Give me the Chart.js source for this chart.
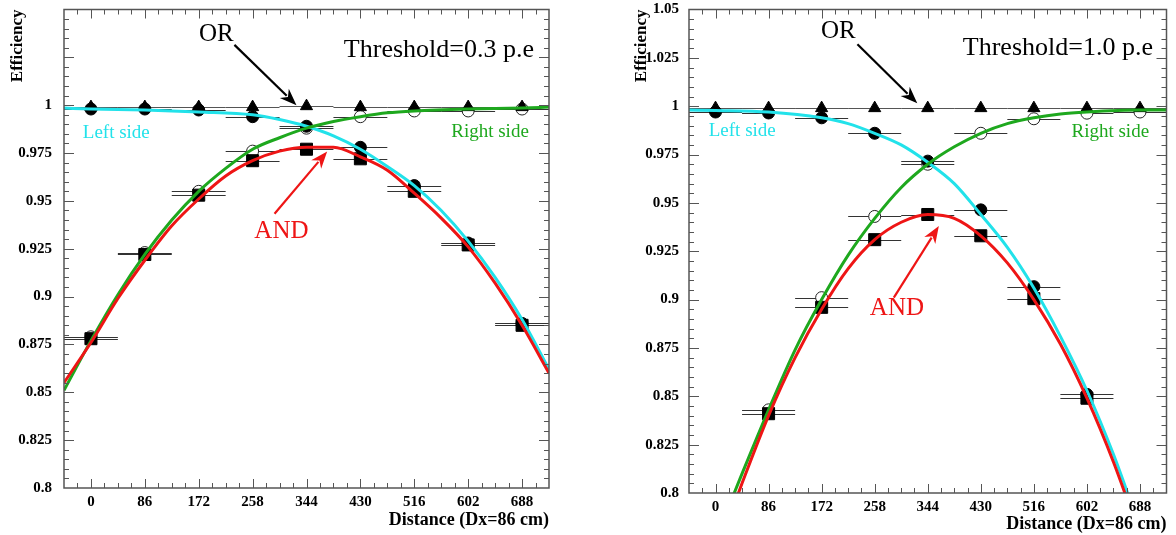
<!DOCTYPE html>
<html lang="en">
<head>
<meta charset="UTF-8">
<title>Efficiency vs distance</title>
<script src="https://cdn.jsdelivr.net/npm/chart.js"></script>
<style>
  body { margin: 0; background: #fff; }
  .panel { position: absolute; top: 0; width: 588px; height: 535px; }
  #p1 { left: 0; }
  #p2 { left: 588px; }
</style>
</head>
<body>
<div class="panel" id="p1"><canvas id="c1"></canvas></div>
<div class="panel" id="p2"><canvas id="c2"></canvas></div>
<script>
// x positions of the measurements and axis labels
const distances = [0, 86, 172, 258, 344, 430, 516, 602, 688];
const yTicks = [0.8, 0.825, 0.85, 0.875, 0.9, 0.925, 0.95, 0.975, 1.0, 1.025, 1.05];

// Threshold = 0.3 p.e
const orLo = [0.999, 0.999, 0.999, 0.999, 0.9995, 0.999, 0.999, 0.999, 0.999];
const leftLo = [0.998, 0.998, 0.9975, 0.994, 0.989, 0.978, 0.958, 0.928, 0.886];
const rightLo = [0.879, 0.923, 0.955, 0.976, 0.988, 0.994, 0.997, 0.997, 0.998];
const andLo = [0.878, 0.922, 0.953, 0.971, 0.977, 0.972, 0.955, 0.927, 0.885];

const cyanLoX = [-43, 0, 86, 172, 258, 301, 344, 387, 430, 473, 516, 559, 602, 645, 688, 731];
const cyanLoY = [0.9985, 0.998, 0.9975, 0.9965, 0.995, 0.9925, 0.989, 0.984, 0.977, 0.968, 0.958, 0.945, 0.929, 0.910, 0.888, 0.862];
const greenLoX = [-43, 0, 43, 86, 129, 172, 215, 258, 301, 344, 387, 430, 473, 516, 602, 688, 731];
const greenLoY = [0.851, 0.877, 0.901, 0.922, 0.940, 0.955, 0.967, 0.977, 0.983, 0.988, 0.9915, 0.994, 0.996, 0.997, 0.998, 0.9985, 0.999];
const redLoX = [-43, 0, 43, 86, 129, 172, 215, 258, 301, 344, 387, 430, 473, 516, 559, 602, 645, 688, 731];
const redLoY = [0.855, 0.876, 0.899, 0.919, 0.937, 0.951, 0.963, 0.971, 0.976, 0.978, 0.978, 0.973, 0.966, 0.954, 0.941, 0.926, 0.907, 0.885, 0.860];

// Threshold = 1.0 p.e
const orHi = [0.999, 0.999, 0.999, 0.999, 0.999, 0.999, 0.999, 0.999, 0.999];
const leftHi = [0.997, 0.9965, 0.994, 0.986, 0.9716, 0.9464, 0.9067, 0.851, null];
const rightHi = [null, 0.843, 0.901, 0.943, 0.970, 0.986, 0.9935, 0.9964, 0.997];
const andHi = [null, 0.841, 0.896, 0.931, 0.944, 0.933, 0.9005, 0.849, null];

const cyanHiX = [-43, 0, 86, 172, 215, 258, 301, 344, 387, 430, 473, 516, 559, 602, 645, 688];
const cyanHiY = [0.998, 0.9978, 0.997, 0.994, 0.991, 0.986, 0.980, 0.971, 0.960, 0.944, 0.927, 0.906, 0.881, 0.853, 0.820, 0.782];
const greenHiX = [0, 43, 86, 129, 172, 215, 258, 301, 344, 387, 430, 473, 516, 559, 602, 688, 731];
const greenHiY = [0.776, 0.810, 0.843, 0.874, 0.900, 0.923, 0.942, 0.958, 0.970, 0.979, 0.986, 0.991, 0.994, 0.996, 0.997, 0.998, 0.998];
const redHiX = [0, 43, 86, 129, 172, 215, 258, 301, 344, 387, 430, 473, 516, 559, 602, 645, 688];
const redHiY = [0.768, 0.805, 0.840, 0.870, 0.895, 0.916, 0.931, 0.940, 0.944, 0.942, 0.933, 0.919, 0.900, 0.877, 0.849, 0.816, 0.778];

const CYAN = '#22e2ea';
const GREEN = '#1ea81e';
const RED = '#ee1515';
const SERIF = "'Liberation Serif', 'DejaVu Serif', serif";

function pts(vals) {
    return distances.map((d, i) => ({ x: d, y: vals[i] })).filter(p => p.y != null);
}
function curve(xs, ys) {
    return xs.map((x, i) => ({ x: x, y: ys[i] }));
}

// frame, inward ticks (ROOT style), error bars and the text/arrow notes
const rootPlugin = {
    id: 'rootStyle',
    beforeDatasetsDraw(chart) {
        const { ctx, chartArea: a, scales: { x, y } } = chart;
        ctx.save();
        ctx.beginPath();
        ctx.rect(a.left, a.top, a.right - a.left, a.bottom - a.top);
        ctx.clip();
        ctx.lineWidth = 1;
        chart.data.datasets.forEach(ds => {
            if (!ds.xErr) return;
            ctx.strokeStyle = ds.errColor || '#333';
            ds.data.forEach(p => {
                const py = Math.round(y.getPixelForValue(p.y)) + 0.5;
                ctx.beginPath();
                ctx.moveTo(x.getPixelForValue(p.x - ds.xErr), py);
                ctx.lineTo(x.getPixelForValue(p.x + ds.xErr), py);
                ctx.stroke();
            });
        });
        ctx.restore();
    },
    afterDraw(chart) {
        const { ctx, chartArea: a, scales: { x, y } } = chart;
        ctx.save();
        ctx.strokeStyle = '#555';
        ctx.lineWidth = 1.5;
        ctx.strokeRect(a.left, a.top, a.right - a.left, a.bottom - a.top);
        ctx.lineWidth = 1;
        ctx.beginPath();
        for (let k = -1; k <= 33; k++) {
            const v = k * 21.5;
            if (v < x.min || v > x.max) continue;
            const px = Math.round(x.getPixelForValue(v)) + 0.5;
            const len = k % 4 === 0 ? 9 : 5;
            ctx.moveTo(px, a.bottom); ctx.lineTo(px, a.bottom - len);
            ctx.moveTo(px, a.top); ctx.lineTo(px, a.top + len);
        }
        for (let k = 1; k < 50; k++) {
            const py = Math.round(y.getPixelForValue(0.8 + k * 0.005)) + 0.5;
            const len = k % 5 === 0 ? 10 : 5;
            ctx.moveTo(a.left, py); ctx.lineTo(a.left + len, py);
            ctx.moveTo(a.right, py); ctx.lineTo(a.right - len, py);
        }
        ctx.stroke();

        const notes = chart.options.plugins.notes;
        notes.arrows.forEach(n => {
            const x1 = x.getPixelForValue(n.x1), y1 = y.getPixelForValue(n.y1);
            const x2 = x.getPixelForValue(n.x2), y2 = y.getPixelForValue(n.y2);
            const ang = Math.atan2(y2 - y1, x2 - x1);
            const hl = 17, hw = 6.5;
            ctx.strokeStyle = n.color;
            ctx.fillStyle = n.color;
            ctx.lineWidth = 2.2;
            ctx.beginPath();
            ctx.moveTo(x1, y1);
            ctx.lineTo(x2 - Math.cos(ang) * hl * 0.8, y2 - Math.sin(ang) * hl * 0.8);
            ctx.stroke();
            ctx.beginPath();
            ctx.moveTo(x2, y2);
            ctx.lineTo(x2 - Math.cos(ang) * hl + Math.sin(ang) * hw, y2 - Math.sin(ang) * hl - Math.cos(ang) * hw);
            ctx.lineTo(x2 - Math.cos(ang) * hl * 0.7, y2 - Math.sin(ang) * hl * 0.7);
            ctx.lineTo(x2 - Math.cos(ang) * hl - Math.sin(ang) * hw, y2 - Math.sin(ang) * hl + Math.cos(ang) * hw);
            ctx.closePath();
            ctx.fill();
        });
        notes.texts.forEach(t => {
            ctx.font = t.size + 'px ' + SERIF;
            ctx.fillStyle = t.color;
            ctx.textAlign = t.align;
            ctx.textBaseline = 'middle';
            ctx.fillText(t.text, x.getPixelForValue(t.x), y.getPixelForValue(t.y));
        });
        ctx.restore();
    }
};

function makeChart(id, d, cfg) {
    const tickFont = { family: SERIF, size: 15, weight: 'bold' };
    return new Chart(document.getElementById(id), {
        type: 'scatter',
        data: {
            datasets: [
                { data: curve(d.redX, d.redY), showLine: true, borderColor: RED, borderWidth: 3, pointRadius: 0, cubicInterpolationMode: 'monotone' },
                { data: curve(d.greenX, d.greenY), showLine: true, borderColor: GREEN, borderWidth: 3, pointRadius: 0, cubicInterpolationMode: 'monotone' },
                { data: curve(d.cyanX, d.cyanY), showLine: true, borderColor: CYAN, borderWidth: 3, pointRadius: 0, cubicInterpolationMode: 'monotone' },
                { data: pts(d.or), pointStyle: 'triangle', pointRadius: 7, backgroundColor: '#000', borderColor: '#000', xErr: 43, errColor: '#555' },
                { data: pts(d.and), pointStyle: 'rect', pointRadius: 8.5, backgroundColor: '#000', borderColor: '#000', xErr: 43 },
                { data: pts(d.left), pointStyle: 'circle', pointRadius: 6, backgroundColor: '#000', borderColor: '#000', xErr: 43 },
                { data: pts(d.right), pointStyle: 'circle', pointRadius: 6, backgroundColor: '#fff', borderColor: '#222', borderWidth: 1, xErr: 43 }
            ]
        },
        options: {
            responsive: true,
            maintainAspectRatio: false,
            animation: false,
            layout: { padding: { left: 0, top: cfg.top, right: cfg.right, bottom: 0 } },
            plugins: { legend: { display: false }, tooltip: { enabled: false }, notes: cfg.notes },
            scales: {
                x: {
                    type: 'linear', min: -43, max: 731,
                    grid: { display: false, drawTicks: false },
                    border: { display: false },
                    afterBuildTicks: s => { s.ticks = distances.map(v => ({ value: v })); },
                    afterFit: s => { s.height = cfg.xH; s.paddingLeft = 0; s.paddingRight = 0; },
                    ticks: { font: tickFont, color: '#000', padding: 5, maxRotation: 0, autoSkip: false },
                    title: {
                        display: true, text: 'Distance (Dx=86 cm)', align: 'end', color: '#000',
                        font: { family: SERIF, size: 18, weight: 'bold' }, padding: { top: 0, bottom: cfg.titleB }
                    }
                },
                y: {
                    type: 'linear', min: 0.8, max: 1.05,
                    grid: { display: false, drawTicks: false },
                    border: { display: false },
                    afterBuildTicks: s => { s.ticks = yTicks.map(v => ({ value: v })); },
                    afterFit: s => { s.width = cfg.yW; s.paddingTop = 0; s.paddingBottom = 0; },
                    ticks: {
                        font: tickFont, color: '#000', padding: cfg.yPad, autoSkip: false,
                        callback: v => (v > cfg.yLabelMax + 1e-6 ? '' : String(+v.toFixed(3)))
                    },
                    title: {
                        display: true, text: 'Efficiency', align: 'end', color: '#000',
                        font: { family: SERIF, size: 17, weight: 'bold' }, padding: { top: cfg.yTitlePad, bottom: 0 }
                    }
                }
            }
        },
        plugins: [rootPlugin]
    });
}

makeChart('c1', {
    or: orLo, and: andLo, left: leftLo, right: rightLo,
    cyanX: cyanLoX, cyanY: cyanLoY, greenX: greenLoX, greenY: greenLoY, redX: redLoX, redY: redLoY
}, {
    top: 5, right: 39, xH: 47, yW: 64, yPad: 12, titleB: 4, yTitlePad: 7, yLabelMax: 1.0,
    notes: {
        texts: [
            { text: 'OR', x: 200, y: 1.037, color: '#000', size: 25, align: 'center' },
            { text: 'Threshold=0.3 p.e', x: 707, y: 1.029, color: '#000', size: 26, align: 'right' },
            { text: 'Left side', x: -13, y: 0.9856, color: CYAN, size: 19, align: 'left' },
            { text: 'Right side', x: 575, y: 0.986, color: GREEN, size: 19, align: 'left' },
            { text: 'AND', x: 304, y: 0.934, color: RED, size: 25, align: 'center' }
        ],
        arrows: [
            { x1: 229, y1: 1.0315, x2: 328, y2: 1.0, color: '#000' },
            { x1: 293, y1: 0.9433, x2: 377, y2: 0.9758, color: RED }
        ]
    }
});

makeChart('c2', {
    or: orHi, and: andHi, left: leftHi, right: rightHi,
    cyanX: cyanHiX, cyanY: cyanHiY, greenX: greenHiX, greenY: greenHiY, redX: redHiX, redY: redHiY
}, {
    top: 8, right: 2, xH: 42, yW: 101, yPad: 10, titleB: 0, yTitlePad: 43, yLabelMax: 1.05,
    notes: {
        texts: [
            { text: 'OR', x: 199, y: 1.0387, color: '#000', size: 25, align: 'center' },
            { text: 'Threshold=1.0 p.e', x: 709, y: 1.030, color: '#000', size: 26, align: 'right' },
            { text: 'Left side', x: -11, y: 0.987, color: CYAN, size: 19, align: 'left' },
            { text: 'Right side', x: 577, y: 0.9866, color: GREEN, size: 19, align: 'left' },
            { text: 'AND', x: 294, y: 0.8954, color: RED, size: 25, align: 'center' }
        ],
        arrows: [
            { x1: 230, y1: 1.032, x2: 327, y2: 1.0015, color: '#000' },
            { x1: 289, y1: 0.901, x2: 362, y2: 0.938, color: RED }
        ]
    }
});
</script>
</body>
</html>
